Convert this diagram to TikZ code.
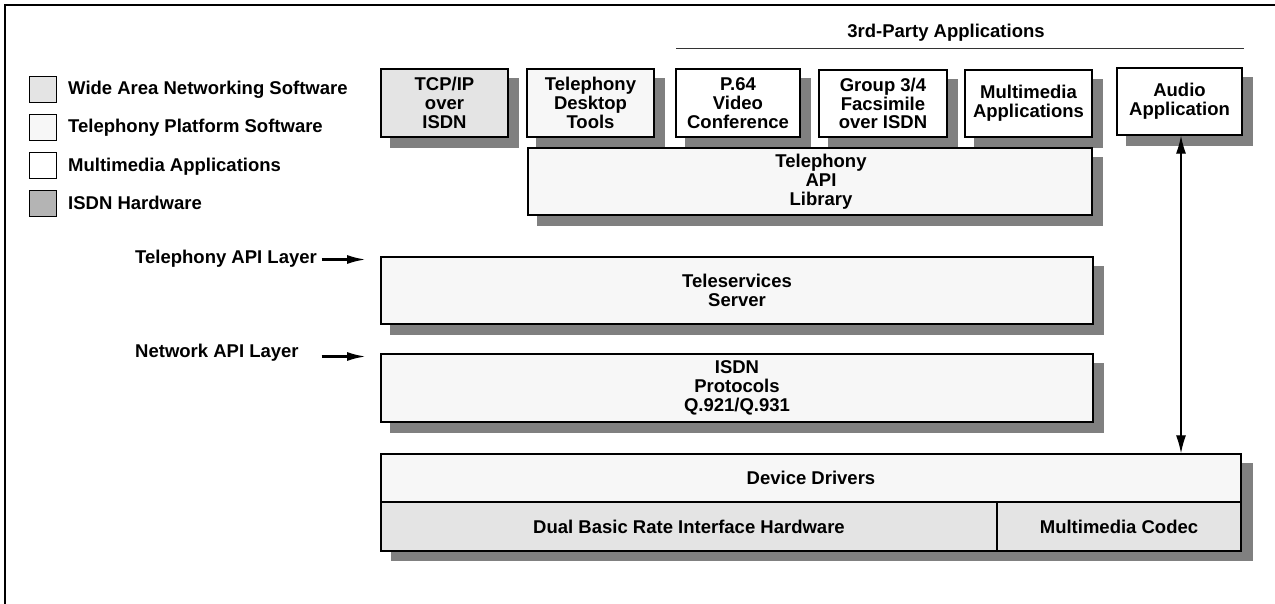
\documentclass[tikz,border=0pt]{standalone}
\usepackage{fontspec}
\setmainfont{Liberation Sans}
\usetikzlibrary{backgrounds,arrows.meta}
\definecolor{wan}{HTML}{E4E4E4}
\definecolor{tps}{HTML}{F7F7F7}
\definecolor{hw}{HTML}{B4B4B4}
\definecolor{shd}{HTML}{808080}
\begin{document}
\begin{tikzpicture}[x=1pt,y=1pt,
  lbl/.style={font=\fontsize{18.5}{18.8}\selectfont\bfseries, align=center, inner sep=0pt},
  blk/.style={draw=black, line width=1.4pt, lbl},
  legbox/.style={draw=black, line width=1pt, minimum width=27pt, minimum height=26pt, inner sep=0pt},
  legtxt/.style={lbl, anchor=base west},
  layerarrow/.style={line width=2.4pt, -{Latex[length=19pt,width=9pt]}},
  dblarrow/.style={line width=1.3pt, {Latex[length=18pt,width=10pt]}-{Latex[length=18pt,width=10pt]}},
  shadowfill/.style={fill=shd}]
\useasboundingbox (0,0) rectangle (1275,-604);
\draw[line width=1.2pt] (1275,-5) -- (5,-5) -- (5,-604);

% legend
\node[legbox, fill=wan] (l1) at (42.5,-90) {};
\node[legbox, fill=tps] (l2) at (42.5,-127.5) {};
\node[legbox, fill=white] (l3) at (42.5,-166) {};
\node[legbox, fill=hw] (l4) at (42.5,-204) {};
\node[legtxt] (t1) at (68,-95) {Wide Area Networking Software};
\node[legtxt] (t2) at (68,-133) {Telephony Platform Software};
\node[legtxt] (t3) at (68,-171.5) {Multimedia Applications};
\node[legtxt] (t4) at (68,-210) {ISDN Hardware};

% 3rd party header
\node[lbl, anchor=base] (hdr) at (946,-37.5) {3rd-Party Applications};
\coordinate (hl) at (676,-48.5);
\coordinate (hr) at (1244,-48.5);
\draw[line width=1pt, black!80] (hl) -- (hr);

% top row
\node[blk, fill=wan, minimum width=127pt, minimum height=68pt] (tcp) at (444.5,-103) {TCP/IP\\over\\ISDN};
\node[blk, fill=tps, minimum width=127pt, minimum height=68pt] (desk) at (590.5,-103) {Telephony\\Desktop\\Tools};
\node[blk, fill=white, minimum width=124pt, minimum height=68pt] (p64) at (738,-103) {P.64\\Video\\Conference};
\node[blk, fill=white, minimum width=128pt, minimum height=67pt] (grp) at (883,-103.5) {Group 3/4\\Facsimile\\over ISDN};
\node[blk, fill=white, minimum width=127pt, minimum height=67pt] (mm) at (1028.5,-103.5) {Multimedia\\Applications};
\node[blk, fill=white, minimum width=125pt, minimum height=67pt] (audio) at (1179.5,-101.5) {Audio\\Application};

% API library
\node[blk, fill=tps, minimum width=564pt, minimum height=67pt] (api) at (810,-181.5) {};
\node[lbl] (apit) at (821,-181.5) {Telephony\\API\\Library};

% layers
\node[blk, fill=tps, minimum width=712pt, minimum height=67pt] (tele) at (737,-290.5) {Teleservices\\Server};
\node[blk, fill=tps, minimum width=712pt, minimum height=68pt] (isdn) at (737,-388) {ISDN\\Protocols\\Q.921/Q.931};

% hardware block
\node[blk, fill=tps, minimum width=860pt, minimum height=48pt] (dd) at (811,-478) {Device Drivers};
\node[blk, fill=wan, minimum width=616pt, minimum height=49pt] (dbri) at (689,-526.5) {Dual Basic Rate Interface Hardware};
\node[blk, fill=wan, minimum width=244pt, minimum height=49pt] (codec) at (1119,-526.5) {Multimedia Codec};

% shadows
\begin{scope}[on background layer]
  \foreach \n in {tcp,desk,p64,grp,mm,audio,api,tele,isdn}
    \fill[shadowfill] ([shift={(10,-10)}]\n.south west) rectangle ([shift={(10,-10)}]\n.north east);
  \fill[shadowfill] ([shift={(11,-9.5)}]dbri.south west) rectangle ([shift={(11,-9.5)}]dd.north east);
\end{scope}

% layer labels
\node[lbl, anchor=base west] (tal) at (135,-263.5) {Telephony API Layer};
\node[lbl, anchor=base west] (nal) at (135,-357.5) {Network API Layer};
\coordinate (ta1) at (321.5,-259.5);
\coordinate (ta2) at (366,-259.5);
\coordinate (na1) at (321.5,-356.5);
\coordinate (na2) at (366,-356.5);
\draw[layerarrow] (ta1) -- (ta2);
\draw[layerarrow] (na1) -- (na2);

% audio arrow
\draw[dblarrow] ([xshift=1.5pt]audio.south) -- ([xshift=1.5pt]audio.south |- dd.north);
\end{tikzpicture}
\end{document}
